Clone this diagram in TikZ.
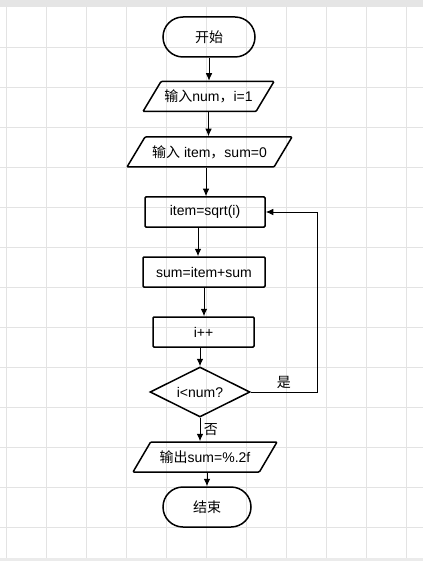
\documentclass[tikz,border=0pt]{standalone}
\usepackage{fontspec}
\setmainfont{Liberation Sans}
\newfontfamily\cjk{Noto Sans CJK SC}
\usetikzlibrary{arrows.meta, positioning, shapes.geometric}

\begin{document}
\begin{tikzpicture}[x=1pt, y=-1pt, font=\fontsize{14}{16}\selectfont,
  gridline/.style={draw=black!11, line width=0.6pt},
  term/.style={draw, rectangle, rounded corners=20pt, line width=1.5pt, minimum width=92pt, minimum height=40pt},
  io/.style={draw, trapezium, trapezium left angle=48, trapezium right angle=132,
    trapezium stretches body, line width=1.5pt, minimum height=30pt, inner xsep=0pt, rounded corners=1pt},
  proc/.style={draw, rectangle, line width=1.5pt, minimum height=30pt, rounded corners=1pt},
  decide/.style={draw, diamond, aspect=2, inner sep=0pt, line width=1.5pt,
    minimum width=100pt, minimum height=50pt},
  flow/.style={-{Latex[length=7.5pt, width=6.5pt]}, line width=0.9pt}]

  % background
  \useasboundingbox (0,0) rectangle (423,561);
  \fill[white] (0,0) rectangle (423,561);
  \foreach \x in {6,46,...,406}
    \draw[gridline] (\x,7) -- (\x,561);
  \foreach \y in {47,87,...,527}
    \draw[gridline] (0,\y) -- (423,\y);
  \fill[black!10] (0,0) rectangle (423,7);
  \fill[black!8] (0,558) rectangle (423,561);

  % nodes
  \node[term] (start) at (209,37) {\cjk 开始};
  \node[io, minimum width=131pt] (in1) at (208.5,96.5) {{\cjk 输入}num{\cjk ，}i=1};
  \node[io, minimum width=165pt] (in2) at (209.5,152) {{\cjk 输入} item{\cjk ，}sum=0};
  \node[proc, minimum width=120pt] (calc) at (205,212) {item=sqrt(i)};
  \node[proc, minimum width=122pt] (acc) at (204,272) {sum=item+sum};
  \node[proc, minimum width=101pt] (inc) at (203.5,332) {i++};
  \node[decide] (test) at (200,392) {i<num?};
  \node[io, minimum width=144pt] (out) at (205,457) {{\cjk 输出}sum=\%.2f};
  \node[term, minimum width=88pt] (stop) at (207,507) {\cjk 结束};
  \coordinate (back) at (317,392);

  % connectors
  \draw[flow] (start.south) -- (start.south |- in1.north);
  \draw[flow] (in1.south) -- (in1.south |- in2.north);
  \draw[flow] ([xshift=-3.5pt]in2.south) -- ([xshift=-3.5pt]in2.south |- calc.north);
  \draw[flow] ([xshift=-7pt]calc.south) -- ([xshift=-7pt]calc.south |- acc.north);
  \draw[flow] (acc.south) -- (acc.south |- inc.north);
  \draw[flow] (inc.south -| test.north) -- (test.north);
  \draw[flow] (test.south) -- node[right]{\cjk 否} (test.south |- out.north);
  \draw[flow] (out.south -| stop.north) -- (stop.north);
  \draw[flow] (test.east) -- node[above]{\cjk 是} (back) |- (calc.east);
\end{tikzpicture}
\end{document}
